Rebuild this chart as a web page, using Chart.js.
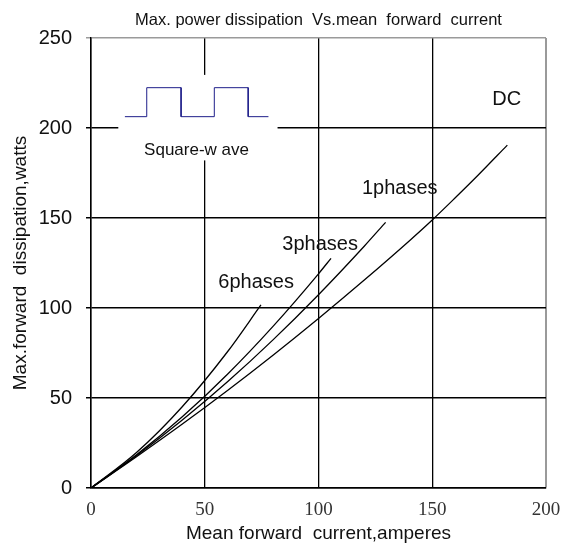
<!DOCTYPE html>
<html>
<head>
<meta charset="utf-8">
<script src="https://cdn.jsdelivr.net/npm/chart.js@4.4.0/dist/chart.umd.min.js"></script>
<style>
body { margin: 0; background: #fff; }
</style>
</head>
<body>
<canvas id="chart" width="564" height="547"></canvas>
<script>
// tick labels
var xTicks = [0, 50, 100, 150, 200];
var yTicks = [0, 50, 100, 150, 200, 250];

// curves (amperes -> watts)
var dcCurrent = [0, 20, 40, 60, 80, 100, 120, 140, 150, 160, 170, 183];
var dcWatts = [0, 17.4, 35.4, 54.2, 73.8, 94.2, 115.4, 137.4, 148.9, 161.1, 173.6, 190.5];

var ph1Current = [0, 20, 40, 60, 80, 100, 120, 129.5];
var ph1Watts = [0, 17.9, 37.6, 59, 82.3, 107.4, 134.2, 147.6];

var ph3Current = [0, 20, 40, 60, 80, 100, 105.5];
var ph3Watts = [0, 18.4, 39.4, 63.2, 89.8, 119, 127.6];

var ph6Current = [0, 20, 40, 60, 74.7];
var ph6Watts = [0, 19.7, 45, 75.7, 101.7];

// little square-wave sketch in the top left
var squareX = [14.9, 24.5, 24.5, 39.6, 39.6, 54.2, 54.2, 69.1, 69.1, 78];
var squareY = [206.3, 206.3, 222.4, 222.4, 206.3, 206.3, 222.4, 222.4, 206.3, 206.3];

var curveNames = ["DC", "1phases", "3phases", "6phases"];

function toPoints(xs, ys) {
	var pts = [];
	for (var i = 0; i < xs.length; i++) {
		pts.push({ x: xs[i], y: ys[i] });
	}
	return pts;
}

// where the free texts sit, in data units
var notes = [
	{ text: curveNames[0], x: 182.7, y: 215.7, size: 20 },
	{ text: curveNames[1], x: 135.7, y: 166.4, size: 20 },
	{ text: curveNames[2], x: 100.7, y: 135.3, size: 20 },
	{ text: curveNames[3], x: 72.6, y: 113.9, size: 20 },
	{ text: "Square-w ave", x: 46.4, y: 187.6, size: 17 }
];
var insetBox = { x1: 12, x2: 82, y1: 182, y2: 229.5 };

var notesPlugin = {
	id: 'notes',
	beforeDatasetsDraw: function(chart) {
		var ctx = chart.ctx, sx = chart.scales.x, sy = chart.scales.y;
		var l = sx.getPixelForValue(insetBox.x1), r = sx.getPixelForValue(insetBox.x2);
		var t = sy.getPixelForValue(insetBox.y2), b = sy.getPixelForValue(insetBox.y1);
		ctx.save();
		ctx.fillStyle = '#fff';
		ctx.fillRect(l, t, r - l, b - t);
		ctx.restore();
	},
	afterDatasetsDraw: function(chart) {
		var ctx = chart.ctx, sx = chart.scales.x, sy = chart.scales.y;
		ctx.save();
		ctx.fillStyle = '#111';
		ctx.textAlign = 'center';
		ctx.textBaseline = 'middle';
		for (var i = 0; i < notes.length; i++) {
			ctx.font = notes[i].size + 'px "Liberation Sans", Arial, sans-serif';
			ctx.fillText(notes[i].text, sx.getPixelForValue(notes[i].x), sy.getPixelForValue(notes[i].y));
		}
		ctx.restore();
	}
};

function curve(label, xs, ys) {
	return {
		label: label,
		data: toPoints(xs, ys),
		borderColor: '#000',
		borderWidth: 1.3,
		pointRadius: 0,
		fill: false,
		cubicInterpolationMode: 'monotone'
	};
}

var edgeColor = function(ctx, last) {
	return ctx.tick && ctx.tick.value === last ? '#9a9a9a' : '#000';
};

new Chart(document.getElementById('chart'), {
	type: 'line',
	data: {
		datasets: [
			curve(curveNames[0], dcCurrent, dcWatts),
			curve(curveNames[1], ph1Current, ph1Watts),
			curve(curveNames[2], ph3Current, ph3Watts),
			curve(curveNames[3], ph6Current, ph6Watts),
			{
				label: 'square',
				data: toPoints(squareX, squareY),
				borderColor: '#1f1f8a',
				borderWidth: 1,
				pointRadius: 0,
				tension: 0,
				fill: false
			}
		]
	},
	options: {
		responsive: false,
		devicePixelRatio: 1,
		animation: false,
		layout: { padding: { left: 0, right: 18, top: 0, bottom: 0 } },
		plugins: {
			legend: { display: false },
			tooltip: { enabled: false },
			title: {
				display: true,
				fullSize: false,
				text: 'Max. power dissipation  Vs.mean  forward  current',
				color: '#111',
				font: { family: '"Liberation Sans", Arial, sans-serif', size: 16.5, weight: 'normal' },
				padding: { top: 10.6, bottom: 7.6 }
			}
		},
		scales: {
			x: {
				type: 'linear',
				min: 0,
				max: 200,
				afterBuildTicks: function(s) { s.ticks = xTicks.map(function(v) { return { value: v }; }); },
				afterFit: function(s) { s.height = 59; s.paddingRight = 0; s.paddingLeft = 0; },
				border: { color: '#000', width: 1.5 },
				grid: {
					drawTicks: false,
					color: function(ctx) { return edgeColor(ctx, 200); },
					lineWidth: function(ctx) { return ctx.tick && ctx.tick.value === 200 ? 2 : 1.3; }
				},
				ticks: {
					padding: 11,
					color: '#333',
					maxRotation: 0,
					font: { family: '"Liberation Serif", "Times New Roman", serif', size: 19 }
				},
				title: {
					display: true,
					text: 'Mean forward  current,amperes',
					color: '#111',
					font: { family: '"Liberation Sans", Arial, sans-serif', size: 19 },
					padding: { top: 0, bottom: 2 }
				}
			},
			y: {
				min: 0,
				max: 250,
				afterBuildTicks: function(s) { s.ticks = yTicks.map(function(v) { return { value: v }; }); },
				afterFit: function(s) { s.width = 91; },
				border: { color: '#000', width: 1.5 },
				grid: {
					drawTicks: true,
					tickLength: 5,
					color: function(ctx) { return edgeColor(ctx, 250); },
					lineWidth: 1.5
				},
				ticks: {
					padding: 14,
					color: '#111',
					font: { family: '"Liberation Sans", Arial, sans-serif', size: 20 }
				},
				title: {
					display: true,
					text: 'Max.forward  dissipation,watts',
					color: '#111',
					font: { family: '"Liberation Sans", Arial, sans-serif', size: 19 },
					padding: { top: 9, bottom: 0 }
				}
			}
		}
	},
	plugins: [notesPlugin]
});
</script>
</body>
</html>
